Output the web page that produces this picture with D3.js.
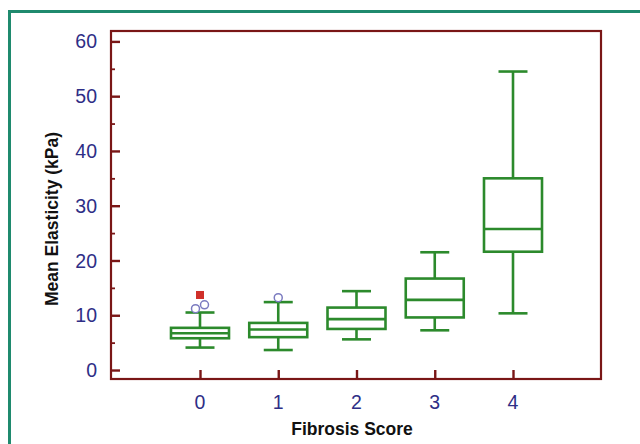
<!DOCTYPE html>
<html><head><meta charset="utf-8">
<script src="https://cdn.jsdelivr.net/npm/d3@7"></script>
<style>body{margin:0;background:#fff}svg{display:block}</style>
</head><body>
<script>
const categories = ["0","1","2","3","4"];
const whiskerLow  = [4.1, 3.65, 5.6, 7.25, 10.35];
const q1          = [5.8, 6.0, 7.5, 9.6, 21.6];
const medians     = [6.7, 7.4, 9.3, 12.8, 25.75];
const q3          = [7.7, 8.6, 11.4, 16.7, 35.0];
const whiskerHigh = [10.5, 12.4, 14.4, 21.5, 54.5];
const outlierCats = ["0","0","1"];
const outlierVals = [11.2, 11.9, 13.2];
const extremeCats = ["0"];
const extremeVals = [13.7];
const yTicks = [0,10,20,30,40,50,60];
const yMinorTicks = [5,15,25,35,45,55];

const W=640,H=444;
const svg=d3.select("body").append("svg").attr("width",W).attr("height",H);
svg.append("rect").attr("width",W).attr("height",H).attr("fill","#fff");
// outer teal frame
svg.append("rect").attr("x",9.5).attr("y",11.5).attr("width",700).attr("height",500)
  .attr("fill","none").attr("stroke","#1f8a6e").attr("stroke-width",3);

const L=111,R=601,T=31,B=379;
const y=d3.scaleLinear().domain([-1.64,61.9]).range([B,T]);
const x=d3.scalePoint().domain(categories).range([200,513]);
const green="#2c8a2c", frameCol="#7a1616", labCol="#2e2e86";
const font="Liberation Sans, Arial, sans-serif";

const g=svg.append("g");
const bw=58, cw=29;
categories.forEach((c,i)=>{
  const cx=x(c);
  const gg=g.append("g").attr("stroke",green).attr("stroke-width",2.6).attr("fill","none");
  gg.append("line").attr("x1",cx).attr("x2",cx).attr("y1",y(whiskerHigh[i])).attr("y2",y(q3[i]));
  gg.append("line").attr("x1",cx).attr("x2",cx).attr("y1",y(q1[i])).attr("y2",y(whiskerLow[i]));
  gg.append("line").attr("x1",cx-cw/2).attr("x2",cx+cw/2).attr("y1",y(whiskerHigh[i])).attr("y2",y(whiskerHigh[i]));
  gg.append("line").attr("x1",cx-cw/2).attr("x2",cx+cw/2).attr("y1",y(whiskerLow[i])).attr("y2",y(whiskerLow[i]));
  gg.append("rect").attr("x",cx-bw/2).attr("y",y(q3[i])).attr("width",bw).attr("height",y(q1[i])-y(q3[i]));
  gg.append("line").attr("x1",cx-bw/2).attr("x2",cx+bw/2).attr("y1",y(medians[i])).attr("y2",y(medians[i]));
});
const offs=[-4.5,4.5,0];
outlierVals.forEach((v,i)=>{
  g.append("circle").attr("cx",x(outlierCats[i])+offs[i]).attr("cy",y(v)).attr("r",4)
    .attr("fill","#fff").attr("stroke","#7b7bc0").attr("stroke-width",1.5);
});
extremeVals.forEach((v,i)=>{
  g.append("rect").attr("x",x(extremeCats[i])-4).attr("y",y(v)-4).attr("width",8).attr("height",8)
    .attr("fill","#d0302a");
});

svg.append("rect").attr("x",L).attr("y",T).attr("width",R-L).attr("height",B-T)
  .attr("fill","none").attr("stroke",frameCol).attr("stroke-width",2.2);

const yAx=svg.append("g").attr("transform",`translate(${L},0)`)
  .call(d3.axisRight(y).tickValues(yTicks).tickSize(9).tickFormat(""));
yAx.select(".domain").remove();
yAx.selectAll("line").attr("stroke",frameCol).attr("stroke-width",2.4);
const yMin=svg.append("g").attr("transform",`translate(${L},0)`)
  .call(d3.axisRight(y).tickValues(yMinorTicks).tickSize(4).tickFormat(""));
yMin.select(".domain").remove();
yMin.selectAll("line").attr("stroke",frameCol).attr("stroke-width",1.8);
svg.append("g").selectAll("text").data(yTicks).join("text")
  .attr("x",L-14).attr("y",d=>y(d)).attr("dy","0.36em").attr("text-anchor","end")
  .attr("font-family",font).attr("font-size",19.5)
  .attr("fill",labCol).text(d=>d);

const xAx=svg.append("g").attr("transform",`translate(0,${B})`)
  .call(d3.axisTop(x).tickSize(9).tickFormat(""));
xAx.select(".domain").remove();
xAx.selectAll("line").attr("stroke",frameCol).attr("stroke-width",2.4);
svg.append("g").selectAll("text").data(categories).join("text")
  .attr("x",d=>x(d)).attr("y",409).attr("text-anchor","middle")
  .attr("font-family",font).attr("font-size",19.5)
  .attr("fill",labCol).text(d=>d);

svg.append("text").attr("x",352).attr("y",435).attr("text-anchor","middle")
  .attr("font-family",font).attr("font-weight","bold")
  .attr("font-size",17.5).attr("fill","#111").text("Fibrosis Score");
svg.append("text").attr("transform","translate(58,219) rotate(-90)").attr("text-anchor","middle")
  .attr("font-family",font).attr("font-weight","bold")
  .attr("font-size",17.5).attr("fill","#111").text("Mean Elasticity (kPa)");
</script>
</body></html>
